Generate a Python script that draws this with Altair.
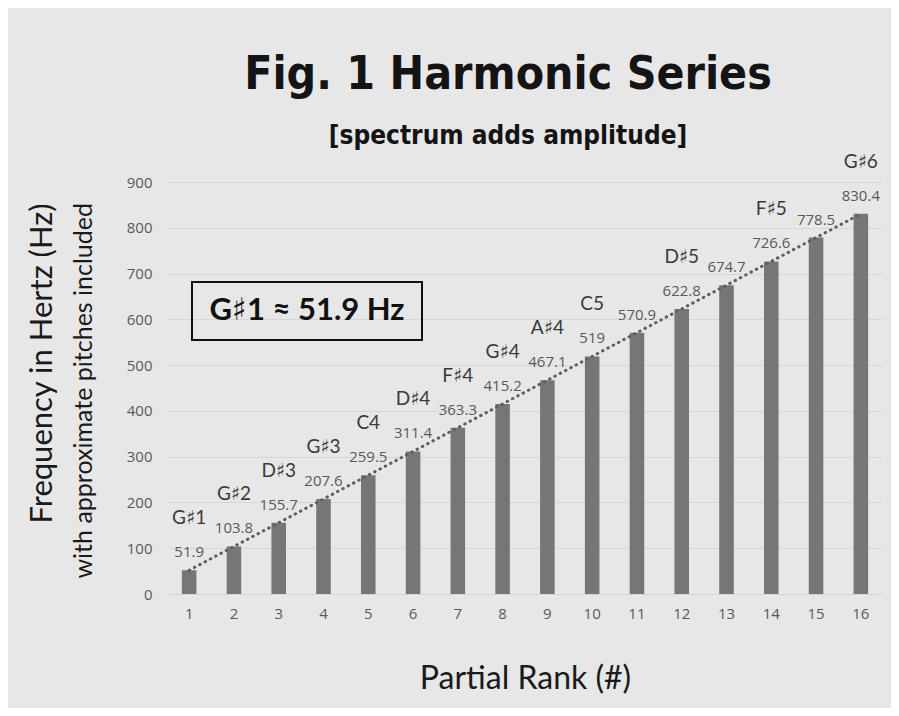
import altair as alt
import pandas as pd

# ---- data ----
ranks = list(range(1, 17))
freqs = [51.9, 103.8, 155.7, 207.6, 259.5, 311.4, 363.3, 415.2,
         467.1, 519, 570.9, 622.8, 674.7, 726.6, 778.5, 830.4]
pitches = ["G♯1", "G♯2", "D♯3", "G♯3", "C4", "D♯4", "F♯4", "G♯4",
           "A♯4", "C5", "", "D♯5", "", "F♯5", "", "G♯6"]
y_ticks = [0, 100, 200, 300, 400, 500, 600, 700, 800, 900]

title_text = "Fig. 1 Harmonic Series"
subtitle_text = "[spectrum adds amplitude]"
y_title_1 = "Frequency in Hertz (Hz)"
y_title_2 = "with approximate pitches included"
x_title = "Partial Rank (#)"
box_text = "G♯1 ≈ 51.9 Hz"

df = pd.DataFrame({
    "rank": ranks,
    "freq": freqs,
    "pitch": pitches,
    "label": [f"{v:g}" for v in freqs],
})

W, H = 714, 412
BG = "#e7e7e7"
GRID = "#d6d6d6"
COND = "DejaVu Sans Condensed, DejaVu Sans, sans-serif"

x_enc = alt.X("rank:O",
              scale=alt.Scale(paddingInner=0.675, paddingOuter=0.31),
              axis=alt.Axis(title=x_title, labelAngle=0, ticks=False,
                            domain=True, domainColor=GRID, domainWidth=1,
                            labelFont="Open Sans", labelFontSize=15,
                            labelColor="#595959", labelPadding=12,
                            titleFont="Lato", titleFontSize=32,
                            titleFontWeight="normal", titleColor="#1a1a1a",
                            titleX=357, titleY=84, titleBaseline="middle",
                            titleAnchor="middle"))
y_enc = alt.Y("freq:Q",
              scale=alt.Scale(domain=[0, 900], nice=False),
              axis=alt.Axis(values=y_ticks, title=y_title_1, ticks=False,
                            domain=False, grid=True, gridColor=GRID,
                            labelFont="Open Sans", labelFontSize=15,
                            labelColor="#595959", labelPadding=16,
                            titleFont="Lato", titleFontSize=31,
                            titleFontWeight="normal", titleColor="#1a1a1a",
                            titleAngle=270, titleAlign="right",
                            titleBaseline="middle", titleX=-126, titleY=21))

base = alt.Chart(df)

bars = base.mark_bar(color="#767676").encode(x=x_enc, y=y_enc)

trend = base.mark_line(color="#5e5e5e", strokeWidth=3, strokeDash=[0.5, 5.5],
                       strokeCap="round").encode(x="rank:O", y="freq:Q")

values = base.mark_text(font="Open Sans", fontSize=15, color="#595959",
                        baseline="middle", dy=-18).encode(
    x="rank:O", y="freq:Q", text="label:N")

pitch_lbl = base.mark_text(font="Lato, DejaVu Sans", fontSize=19,
                           color="#3a3a3a", baseline="middle", dy=-52).encode(
    x="rank:O", y="freq:Q", text="pitch:N")

one = pd.DataFrame({"a": [1]})
ann = alt.Chart(one)

title = ann.mark_text(font=COND, fontWeight="bold", fontSize=46,
                      color="#141414", align="center",
                      baseline="alphabetic").encode(
    x=alt.value(340), y=alt.value(-93), text=alt.value(title_text))

subtitle = ann.mark_text(font=COND, fontWeight="bold", fontSize=26,
                         color="#141414", align="center",
                         baseline="alphabetic").encode(
    x=alt.value(340), y=alt.value(-38), text=alt.value(subtitle_text))

ytitle2 = ann.mark_text(font="Lato", fontSize=25, color="#1a1a1a",
                        angle=270, align="right", baseline="middle").encode(
    x=alt.value(-84), y=alt.value(21), text=alt.value(y_title_2))

box = ann.mark_rect(fill=BG, fillOpacity=0, stroke="#111111",
                    strokeWidth=2).encode(
    x=alt.value(24), x2=alt.value(254), y=alt.value(100), y2=alt.value(158))

box_lbl = ann.mark_text(font="Lato, DejaVu Sans", fontWeight="bold",
                        fontSize=31, color="#111111", align="center",
                        baseline="middle").encode(
    x=alt.value(139), y=alt.value(129), text=alt.value(box_text))

chart = alt.layer(bars, trend, values, pitch_lbl, title, subtitle,
                  ytitle2, box, box_lbl).properties(
    width=W, height=H,
    autosize=alt.AutoSizeParams(type="none"),
    padding={"left": 160, "top": 174, "right": 9, "bottom": 114},
    background=BG,
).configure_view(stroke=None)

chart.save("out.html", embed_options={"renderer": "svg", "actions": False})
